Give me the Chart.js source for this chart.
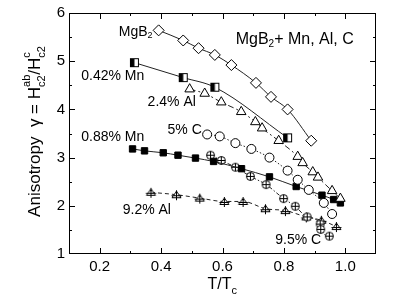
<!DOCTYPE html>
<html>
<head>
<meta charset="utf-8">
<script src="https://cdn.jsdelivr.net/npm/chart.js@4.4.1/dist/chart.umd.min.js"></script>
<style>
  html, body { margin: 0; padding: 0; background: #fff; }
  #wrap { width: 393px; height: 304px; }
</style>
</head>
<body>
<div id="wrap"><canvas id="anisoChart" width="393" height="304"></canvas></div>
<script>
// --- data (T/Tc, gamma) ---
const mgb2T   = [0.392, 0.472, 0.522, 0.575, 0.629, 0.709, 0.758, 0.812, 0.889];
const mgb2G   = [5.64, 5.43, 5.27, 5.13, 4.92, 4.55, 4.26, 4.00, 3.35];

const mn042T  = [0.313, 0.472, 0.575, 0.812];
const mn042G  = [4.97, 4.66, 4.46, 3.41];

const al24T   = [0.493, 0.542, 0.596, 0.661, 0.707, 0.729, 0.783, 0.845, 0.861, 0.894, 0.911, 0.957, 0.984];
const al24G   = [4.42, 4.33, 4.15, 3.95, 3.74, 3.61, 3.35, 3.02, 2.89, 2.70, 2.59, 2.31, 2.15];

const c5T     = [0.550, 0.591, 0.642, 0.694, 0.753, 0.812, 0.845, 0.881, 0.930, 0.957];
const c5G     = [3.48, 3.44, 3.30, 3.18, 3.00, 2.73, 2.54, 2.33, 2.06, 1.83];

const mn088T  = [0.307, 0.346, 0.407, 0.455, 0.512, 0.571, 0.662, 0.753, 0.840, 0.924, 0.962, 0.984];
const mn088G  = [3.18, 3.14, 3.10, 3.05, 2.99, 2.92, 2.77, 2.60, 2.40, 2.22, 2.13, 2.06];

const c95T    = [0.561, 0.596, 0.642, 0.691, 0.742, 0.799, 0.837, 0.876, 0.918, 0.920, 0.948];
const c95G    = [3.05, 2.94, 2.80, 2.61, 2.44, 2.15, 1.99, 1.77, 1.62, 1.51, 1.37];

const al92T   = [0.367, 0.450, 0.526, 0.606, 0.667, 0.740, 0.805, 0.873, 0.922, 0.971];
const al92G   = [2.28, 2.23, 2.16, 2.09, 2.09, 1.94, 1.90, 1.77, 1.70, 1.57];

const xTickLabels = ['0.2', '0.4', '0.6', '0.8', '1.0'];
const yTickLabels = ['1', '2', '3', '4', '5', '6'];

// curve labels: [text, T/Tc, gamma]
const curveLabels = [
  ['MgB₂',     0.262, 5.61],
  ['0.42% Mn', 0.140, 4.68],
  ['2.4% Al',  0.356, 4.16],
  ['5% C',     0.421, 3.56],
  ['0.88% Mn', 0.140, 3.43],
  ['9.2% Al',  0.275, 1.92],
  ['9.5% C',   0.772, 1.29]
];

const FONT = '"Liberation Sans", Arial, sans-serif';

function pts(xs, ys) { return xs.map((x, i) => ({ x, y: ys[i] })); }

// custom markers drawn on small canvases
function marker(kind) {
  const s = 13, c = document.createElement('canvas');
  c.width = s; c.height = s;
  const g = c.getContext('2d');
  g.strokeStyle = '#000'; g.fillStyle = '#fff'; g.lineWidth = 1;
  const m = s / 2;
  if (kind === 'halfSquare') {
    g.fillRect(2.5, 2.5, 8, 8);
    g.fillStyle = '#000';
    g.fillRect(2.5, 2.5, 4, 8);
    g.strokeRect(2.5, 2.5, 8, 8);
  } else if (kind === 'circlePlus') {
    g.beginPath(); g.arc(m, m, 4, 0, Math.PI * 2); g.fill(); g.stroke();
    g.beginPath();
    g.moveTo(m, m - 4); g.lineTo(m, m + 4);
    g.moveTo(m - 4, m); g.lineTo(m + 4, m);
    g.stroke();
  } else if (kind === 'triPlus') {
    g.beginPath();
    g.moveTo(m, 3); g.lineTo(m + 4.5, 9.5); g.lineTo(m - 4.5, 9.5); g.closePath();
    g.fill(); g.stroke();
    g.beginPath();
    g.moveTo(m, 2); g.lineTo(m, 12);
    g.moveTo(m - 5, 7.5); g.lineTo(m + 5, 7.5);
    g.stroke();
  }
  return c;
}

function series(label, xs, ys, pointStyle, dash, extra) {
  return Object.assign({
    label,
    data: pts(xs, ys),
    showLine: true,
    borderColor: '#222',
    borderWidth: 1,
    borderDash: dash,
    cubicInterpolationMode: 'monotone',
    pointStyle,
    pointRadius: 5,
    pointBorderColor: '#000',
    pointBackgroundColor: '#fff',
    pointBorderWidth: 1
  }, extra || {});
}

const frameTicks = {
  id: 'frameTicks',
  afterDraw(chart) {
    const { ctx, chartArea: a, scales: { x, y } } = chart;
    ctx.save();
    ctx.strokeStyle = '#000';
    ctx.lineWidth = 1;
    ctx.strokeRect(a.left + 0.5, a.top + 0.5, a.right - a.left - 1, a.bottom - a.top - 1);
    ctx.beginPath();
    for (let v = 0.2; v <= 1.05; v += 0.1) {
      const px = Math.round(x.getPixelForValue(v)) + 0.5;
      const major = Math.round(v * 10) % 2 === 0;
      const len = major ? 6 : 3;
      ctx.moveTo(px, a.bottom); ctx.lineTo(px, a.bottom - len);
      ctx.moveTo(px, a.top);    ctx.lineTo(px, a.top + len);
    }
    for (let v = 1.5; v <= 5.6; v += 0.5) {
      const py = Math.round(y.getPixelForValue(v)) + 0.5;
      const major = Math.abs(v - Math.round(v)) < 0.01;
      const len = major ? 6 : 3;
      ctx.moveTo(a.left, py);  ctx.lineTo(a.left + len, py);
      ctx.moveTo(a.right, py); ctx.lineTo(a.right - len, py);
    }
    ctx.stroke();

    ctx.fillStyle = '#000';

    // tick labels
    ctx.font = '15px ' + FONT;
    ctx.textBaseline = 'middle';
    ctx.textAlign = 'center';
    xTickLabels.forEach(t => ctx.fillText(t, x.getPixelForValue(+t), a.bottom + 13));
    ctx.textAlign = 'right';
    yTickLabels.forEach(t => ctx.fillText(t, a.left - 4, y.getPixelForValue(+t)));

    // curve labels
    ctx.font = '14px ' + FONT;
    ctx.textAlign = 'left';
    curveLabels.forEach(([t, tx, ty]) => {
      const px = x.getPixelForValue(tx), py = y.getPixelForValue(ty);
      if (t === 'MgB₂') {
        ctx.fillText('MgB', px, py);
        const w = ctx.measureText('MgB').width;
        ctx.font = '9px ' + FONT;
        ctx.fillText('2', px + w, py + 4);
        ctx.font = '14px ' + FONT;
      } else {
        ctx.fillText(t, px, py);
      }
    });

    // title inside the plot
    let px = x.getPixelForValue(0.643), py = y.getPixelForValue(5.45);
    ctx.font = '16px ' + FONT;
    ctx.fillText('MgB', px, py);
    px += ctx.measureText('MgB').width;
    ctx.font = '10px ' + FONT;
    ctx.fillText('2', px, py + 5);
    px += ctx.measureText('2').width;
    ctx.font = '16px ' + FONT;
    ctx.fillText('+ Mn, Al, C', px, py);

    // x axis title T/Tc
    ctx.font = '16px ' + FONT;
    ctx.textBaseline = 'alphabetic';
    const cx = (a.left + a.right) / 2;
    const wMain = ctx.measureText('T/T').width;
    ctx.fillText('T/T', cx - wMain / 2 - 3, 289);
    ctx.font = '11px ' + FONT;
    ctx.fillText('c', cx + wMain / 2 - 3, 294);

    // y axis title
    ctx.translate(40, (a.top + a.bottom) / 2 - 2);
    ctx.rotate(-Math.PI / 2);
    const parts = [
      ['Anisotropy  γ = H', 17, 0],
      ['c2', 11, 5, 'ab', -10],
      ['/H', 17, 0],
      ['c2', 11, 5, 'c', -10]
    ];
    let total = 0;
    parts.forEach(p => {
      ctx.font = p[1] + 'px ' + FONT;
      let w = ctx.measureText(p[0]).width;
      if (p[3]) w = Math.max(w, ctx.measureText(p[3]).width);
      p.w = w; total += w;
    });
    let ox = -total / 2;
    parts.forEach(p => {
      ctx.font = p[1] + 'px ' + FONT;
      ctx.fillText(p[0], ox, p[2]);
      if (p[3]) ctx.fillText(p[3], ox, p[4]);
      ox += p.w;
    });
    ctx.restore();
  }
};

new Chart(document.getElementById('anisoChart'), {
  type: 'scatter',
  data: {
    datasets: [
      series('MgB2', mgb2T, mgb2G, 'rectRot', [], { pointRadius: 5.5 }),
      series('0.42% Mn', mn042T, mn042G, marker('halfSquare'), []),
      series('2.4% Al', al24T, al24G, 'triangle', [6, 3, 2, 3], { pointRadius: 5.5 }),
      series('5% C', c5T, c5G, 'circle', [1.5, 2], { pointRadius: 4.5 }),
      series('0.88% Mn', mn088T, mn088G, 'rect', [], { pointBackgroundColor: '#000', pointRadius: 4.5 }),
      series('9.5% C', c95T, c95G, marker('circlePlus'), [4, 2, 1.5, 2]),
      series('9.2% Al', al92T, al92G, marker('triPlus'), [4, 3])
    ]
  },
  options: {
    responsive: false,
    animation: false,
    layout: { padding: { top: 13, right: 17, left: 0, bottom: 0 } },
    plugins: { legend: { display: false }, tooltip: { enabled: false } },
    scales: {
      x: {
        type: 'linear', min: 0.1, max: 1.1,
        afterFit: s => { s.height = 50; },
        grid: { display: false },
        border: { display: false },
        ticks: { display: false }
      },
      y: {
        type: 'linear', min: 1, max: 6,
        afterFit: s => { s.width = 69; },
        grid: { display: false },
        border: { display: false },
        ticks: { display: false }
      }
    }
  },
  plugins: [frameTicks]
});
</script>
</body>
</html>
